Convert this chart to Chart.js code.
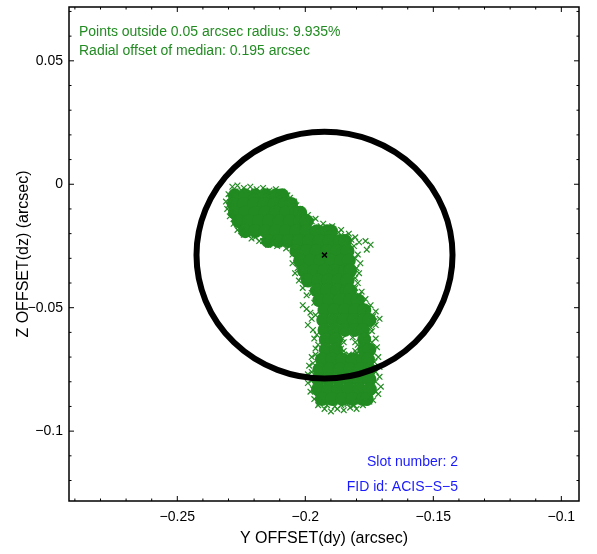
<!DOCTYPE html>
<html>
<head>
<meta charset="utf-8">
<script src="https://cdn.jsdelivr.net/npm/chart.js@4.4.1/dist/chart.umd.min.js"></script>
<style>
  html, body { margin: 0; padding: 0; background: #fff; }
  #wrap { width: 597px; height: 554px; }
</style>
</head>
<body>
<div id="wrap"><canvas id="myChart" width="597" height="554"></canvas></div>
<script>
// axis limits and ticks (arcsec)
const xRange = [-0.2923, -0.0931];
const yRange = [-0.1283, 0.0718];
const xMajorTicks = [-0.25, -0.2, -0.15, -0.1];
const yMajorTicks = [-0.1, -0.05, 0, 0.05];
const xMinorTicks = [-0.29, -0.28, -0.27, -0.26, -0.24, -0.23, -0.22, -0.21, -0.19, -0.18, -0.17, -0.16, -0.14, -0.13, -0.12, -0.11];
const yMinorTicks = [-0.12, -0.11, -0.09, -0.08, -0.07, -0.06, -0.04, -0.03, -0.02, -0.01, 0.01, 0.02, 0.03, 0.04, 0.06, 0.07];

// median position and the 0.05 arcsec ring around it
const medianPoint = [-0.1925, -0.0287];
const ringRadius = 0.05;

// dense part of the fid light offsets, row by row (dy, dz)
const coreCloud = [
    [-0.2275,-0.0045],[-0.2235,-0.0045],[-0.2195,-0.0045],[-0.2155,-0.0045],[-0.2115,-0.0045],[-0.2090,-0.0045],
    [-0.2280,-0.0080],[-0.2240,-0.0080],[-0.2200,-0.0080],[-0.2160,-0.0080],[-0.2120,-0.0080],[-0.2080,-0.0080],[-0.2055,-0.0080],
    [-0.2275,-0.0115],[-0.2235,-0.0115],[-0.2195,-0.0115],[-0.2155,-0.0115],[-0.2115,-0.0115],[-0.2075,-0.0115],[-0.2035,-0.0115],[-0.2020,-0.0115],
    [-0.2260,-0.0150],[-0.2220,-0.0150],[-0.2180,-0.0150],[-0.2140,-0.0150],[-0.2100,-0.0150],[-0.2060,-0.0150],[-0.2020,-0.0150],[-0.1995,-0.0150],
    [-0.2235,-0.0190],[-0.2195,-0.0190],[-0.2155,-0.0190],[-0.2115,-0.0190],[-0.2075,-0.0190],[-0.2035,-0.0190],[-0.1995,-0.0190],[-0.1955,-0.0190],[-0.1915,-0.0190],[-0.1900,-0.0190],
    [-0.2145,-0.0230],[-0.2105,-0.0230],[-0.2065,-0.0230],[-0.2025,-0.0230],[-0.1985,-0.0230],[-0.1945,-0.0230],[-0.1905,-0.0230],[-0.1865,-0.0230],[-0.1845,-0.0230],
    [-0.2035,-0.0270],[-0.1995,-0.0270],[-0.1955,-0.0270],[-0.1915,-0.0270],[-0.1875,-0.0270],[-0.1835,-0.0270],
    [-0.2020,-0.0310],[-0.1980,-0.0310],[-0.1940,-0.0310],[-0.1900,-0.0310],[-0.1860,-0.0310],[-0.1830,-0.0310],
    [-0.2005,-0.0350],[-0.1965,-0.0350],[-0.1925,-0.0350],[-0.1885,-0.0350],[-0.1845,-0.0350],[-0.1825,-0.0350],
    [-0.1990,-0.0390],[-0.1950,-0.0390],[-0.1910,-0.0390],[-0.1870,-0.0390],[-0.1835,-0.0390],
    [-0.1955,-0.0430],[-0.1915,-0.0430],[-0.1875,-0.0430],[-0.1835,-0.0430],[-0.1825,-0.0430],
    [-0.1945,-0.0470],[-0.1905,-0.0470],[-0.1865,-0.0470],[-0.1825,-0.0470],[-0.1795,-0.0470],
    [-0.1925,-0.0510],[-0.1885,-0.0510],[-0.1845,-0.0510],[-0.1805,-0.0510],[-0.1770,-0.0510],
    [-0.1930,-0.0550],[-0.1890,-0.0550],[-0.1850,-0.0550],[-0.1810,-0.0550],[-0.1770,-0.0550],[-0.1750,-0.0550],
    [-0.1925,-0.0590],[-0.1885,-0.0590],[-0.1845,-0.0590],[-0.1805,-0.0590],[-0.1775,-0.0590],
    [-0.1920,-0.0630],[-0.1880,-0.0630],[-0.1770,-0.0630],
    [-0.1920,-0.0670],[-0.1880,-0.0670],[-0.1770,-0.0670],[-0.1750,-0.0670],
    [-0.1935,-0.0710],[-0.1895,-0.0710],[-0.1855,-0.0710],[-0.1815,-0.0710],[-0.1775,-0.0710],[-0.1755,-0.0710],
    [-0.1945,-0.0750],[-0.1905,-0.0750],[-0.1865,-0.0750],[-0.1825,-0.0750],[-0.1785,-0.0750],[-0.1750,-0.0750],
    [-0.1950,-0.0790],[-0.1910,-0.0790],[-0.1870,-0.0790],[-0.1830,-0.0790],[-0.1790,-0.0790],[-0.1750,-0.0790],
    [-0.1950,-0.0830],[-0.1910,-0.0830],[-0.1870,-0.0830],[-0.1830,-0.0830],[-0.1790,-0.0830],[-0.1748,-0.0830],
    [-0.1935,-0.0870],[-0.1895,-0.0870],[-0.1855,-0.0870],[-0.1815,-0.0870],[-0.1775,-0.0870],[-0.1760,-0.0870]
];

// scattered offsets around the edge of the cloud
const edgeCloud = [
    [-0.2285,-0.0010],[-0.2265,-0.0005],[-0.2240,-0.0015],[-0.2215,-0.0010],[-0.2190,-0.0020],[-0.2165,-0.0015],
    [-0.2140,-0.0025],[-0.2115,-0.0020],[-0.2090,-0.0030],[-0.2070,-0.0045],
    [-0.2275,-0.0030],[-0.2250,-0.0025],[-0.2200,-0.0030],[-0.2150,-0.0030],[-0.2100,-0.0040],[-0.2060,-0.0055],[-0.2035,-0.0085],
    [-0.2300,-0.0040],[-0.2310,-0.0070],[-0.2305,-0.0100],[-0.2295,-0.0130],[-0.2280,-0.0160],[-0.2265,-0.0185],
    [-0.2295,-0.0055],[-0.2300,-0.0085],[-0.2290,-0.0115],[-0.2280,-0.0140],[-0.2260,-0.0170],
    [-0.2240,-0.0205],[-0.2210,-0.0220],[-0.2180,-0.0230],[-0.2145,-0.0245],[-0.2110,-0.0250],[-0.2075,-0.0260],[-0.2050,-0.0285],
    [-0.2250,-0.0190],[-0.2225,-0.0205],[-0.2195,-0.0215],[-0.2165,-0.0230],[-0.2130,-0.0235],[-0.2095,-0.0240],[-0.2060,-0.0250],[-0.2040,-0.0270],
    [-0.2045,-0.0070],[-0.2020,-0.0100],[-0.1990,-0.0125],[-0.1960,-0.0140],[-0.1930,-0.0160],[-0.1895,-0.0170],
    [-0.1860,-0.0185],[-0.1830,-0.0200],[-0.1805,-0.0215],[-0.1790,-0.0235],[-0.1765,-0.0230],[-0.1745,-0.0245],[-0.1760,-0.0265],
    [-0.2010,-0.0120],[-0.1975,-0.0150],[-0.1940,-0.0170],[-0.1905,-0.0180],[-0.1870,-0.0195],[-0.1845,-0.0210],[-0.1820,-0.0225],[-0.1810,-0.0250],
    [-0.2050,-0.0320],[-0.2040,-0.0360],[-0.2025,-0.0390],[-0.2010,-0.0420],[-0.1995,-0.0450],[-0.2010,-0.0490],
    [-0.1995,-0.0505],[-0.1980,-0.0520],[-0.1975,-0.0545],[-0.1990,-0.0570],[-0.1970,-0.0590],[-0.1965,-0.0625],
    [-0.1960,-0.0665],[-0.1975,-0.0700],[-0.1985,-0.0735],[-0.1990,-0.0770],[-0.1990,-0.0805],[-0.1980,-0.0840],[-0.1965,-0.0870],
    [-0.2035,-0.0300],[-0.2030,-0.0340],[-0.2015,-0.0375],[-0.1995,-0.0405],[-0.1975,-0.0440],[-0.1965,-0.0480],
    [-0.1960,-0.0530],[-0.1955,-0.0610],[-0.1950,-0.0650],[-0.1960,-0.0690],[-0.1970,-0.0725],[-0.1975,-0.0760],
    [-0.1975,-0.0795],[-0.1970,-0.0830],[-0.1955,-0.0860],[-0.1945,-0.0885],
    [-0.1950,-0.0895],[-0.1925,-0.0910],[-0.1900,-0.0920],[-0.1875,-0.0910],[-0.1850,-0.0915],[-0.1825,-0.0905],
    [-0.1800,-0.0910],[-0.1775,-0.0895],[-0.1750,-0.0880],
    [-0.1915,-0.0895],[-0.1885,-0.0900],[-0.1860,-0.0895],[-0.1835,-0.0890],[-0.1810,-0.0895],[-0.1785,-0.0880],[-0.1765,-0.0885],
    [-0.1795,-0.0285],[-0.1785,-0.0320],[-0.1790,-0.0360],[-0.1795,-0.0400],[-0.1780,-0.0435],[-0.1765,-0.0465],
    [-0.1745,-0.0490],[-0.1725,-0.0515],[-0.1710,-0.0545],[-0.1725,-0.0570],[-0.1740,-0.0595],[-0.1725,-0.0625],
    [-0.1720,-0.0660],[-0.1715,-0.0700],[-0.1710,-0.0740],[-0.1710,-0.0780],[-0.1705,-0.0820],[-0.1715,-0.0850],[-0.1735,-0.0875],
    [-0.1805,-0.0300],[-0.1800,-0.0340],[-0.1805,-0.0380],[-0.1805,-0.0420],[-0.1790,-0.0450],[-0.1775,-0.0480],
    [-0.1755,-0.0505],[-0.1735,-0.0535],[-0.1730,-0.0555],[-0.1745,-0.0580],[-0.1755,-0.0610],[-0.1740,-0.0640],
    [-0.1735,-0.0680],[-0.1730,-0.0720],[-0.1725,-0.0760],[-0.1725,-0.0800],[-0.1725,-0.0840],[-0.1745,-0.0860],
    [-0.1855,-0.0625],[-0.1815,-0.0620],[-0.1860,-0.0665],[-0.1795,-0.0650],[-0.1830,-0.0690],[-0.1800,-0.0685],
    [-0.1850,-0.0640],[-0.1805,-0.0640],[-0.1850,-0.0675],[-0.1805,-0.0675]
];

const infoLines = ['Points outside 0.05 arcsec radius: 9.935%', 'Radial offset of median: 0.195 arcsec'];
const slotLines = ['Slot number: 2', 'FID id: ACIS\u2212S\u22125'];

const green = '#228B22';
const fontName = '"Liberation Sans", Arial, Helvetica, sans-serif';

function minusLabel(v){
    if (Math.abs(v) < 1e-9) return '0';
    return String(v).replace('-', '\u2212');
}

const frame = {
    id: 'frame',
    afterDatasetsDraw(chart){
        const { ctx, scales: { x, y } } = chart;
        const cx = x.getPixelForValue(medianPoint[0]);
        const cy = y.getPixelForValue(medianPoint[1]);
        const rx = x.getPixelForValue(medianPoint[0] + ringRadius) - cx;
        const ry = cy - y.getPixelForValue(medianPoint[1] + ringRadius);
        ctx.save();
        ctx.lineWidth = 6;
        ctx.strokeStyle = '#000';
        ctx.beginPath();
        ctx.ellipse(cx, cy, rx, ry, 0, 0, Math.PI * 2);
        ctx.stroke();
        ctx.restore();
    },
    afterDraw(chart){
        const { ctx, chartArea: { top, bottom, left, right }, scales: { x, y } } = chart;
        ctx.save();
        ctx.strokeStyle = '#000';
        ctx.lineWidth = 1.5;
        ctx.strokeRect(left, top, right - left, bottom - top);
        ctx.lineWidth = 1;
        const tick = (vals, len) => {
            vals.forEach(v => {
                const px = x.getPixelForValue(v);
                ctx.beginPath();
                ctx.moveTo(px, bottom); ctx.lineTo(px, bottom - len);
                ctx.moveTo(px, top); ctx.lineTo(px, top + len);
                ctx.stroke();
            });
        };
        const tickY = (vals, len) => {
            vals.forEach(v => {
                const py = y.getPixelForValue(v);
                ctx.beginPath();
                ctx.moveTo(left, py); ctx.lineTo(left + len, py);
                ctx.moveTo(right, py); ctx.lineTo(right - len, py);
                ctx.stroke();
            });
        };
        tick(xMajorTicks, 5);
        tick(xMinorTicks, 2.5);
        tickY(yMajorTicks, 5);
        tickY(yMinorTicks, 2.5);

        ctx.font = '14px ' + fontName;
        ctx.textBaseline = 'alphabetic';
        ctx.fillStyle = green;
        ctx.textAlign = 'left';
        ctx.fillText(infoLines[0], 79, 36);
        ctx.fillText(infoLines[1], 79, 55);
        ctx.fillStyle = '#1a1aff';
        ctx.textAlign = 'right';
        ctx.fillText(slotLines[0], 458, 466);
        ctx.fillText(slotLines[1], 458, 491);
        ctx.restore();
    }
};

const config = {
    type: 'scatter',
    data: {
        datasets: [
            {
                label: 'median',
                data: [{ x: medianPoint[0], y: medianPoint[1] }],
                pointStyle: 'crossRot',
                pointRadius: 3.5,
                pointBorderWidth: 1.5,
                borderColor: '#000',
                backgroundColor: '#000'
            },
            {
                label: 'edge',
                data: edgeCloud.map(p => ({ x: p[0], y: p[1] })),
                pointStyle: 'crossRot',
                pointRadius: 4,
                pointBorderWidth: 1.2,
                borderColor: green,
                backgroundColor: green
            },
            {
                label: 'core',
                data: coreCloud.map(p => ({ x: p[0], y: p[1] })),
                pointStyle: 'circle',
                pointRadius: 7,
                pointBorderWidth: 0,
                borderColor: green,
                backgroundColor: green
            }
        ]
    },
    options: {
        responsive: false,
        animation: false,
        layout: { padding: { left: 0, top: 7, right: 18, bottom: 0 } },
        plugins: {
            legend: { display: false },
            tooltip: { enabled: false }
        },
        scales: {
            x: {
                type: 'linear',
                min: xRange[0],
                max: xRange[1],
                grid: { display: false, drawTicks: false },
                border: { display: false },
                afterBuildTicks(scale){ scale.ticks = xMajorTicks.map(v => ({ value: v })); },
                afterFit(scale){
                    scale.height = 53;
                    scale.paddingLeft = 0;
                    scale.paddingRight = 0;
                },
                ticks: {
                    color: '#000',
                    font: { family: fontName, size: 14 },
                    padding: 8,
                    maxRotation: 0,
                    callback: v => minusLabel(v)
                },
                title: {
                    display: true,
                    text: 'Y OFFSET(dy) (arcsec)',
                    color: '#000',
                    font: { family: fontName, size: 16 },
                    padding: { top: 0, bottom: 6 }
                }
            },
            y: {
                type: 'linear',
                min: yRange[0],
                max: yRange[1],
                grid: { display: false, drawTicks: false },
                border: { display: false },
                afterBuildTicks(scale){ scale.ticks = yMajorTicks.map(v => ({ value: v })); },
                afterFit(scale){
                    scale.width = 69;
                    scale.paddingTop = 0;
                    scale.paddingBottom = 0;
                },
                ticks: {
                    color: '#000',
                    font: { family: fontName, size: 14 },
                    padding: 6,
                    callback: v => minusLabel(v)
                },
                title: {
                    display: true,
                    text: 'Z OFFSET(dz) (arcsec)',
                    color: '#000',
                    font: { family: fontName, size: 16 },
                    padding: { top: 14, bottom: 0 }
                }
            }
        }
    },
    plugins: [frame]
};

new Chart(document.getElementById('myChart'), config);
</script>
</body>
</html>
